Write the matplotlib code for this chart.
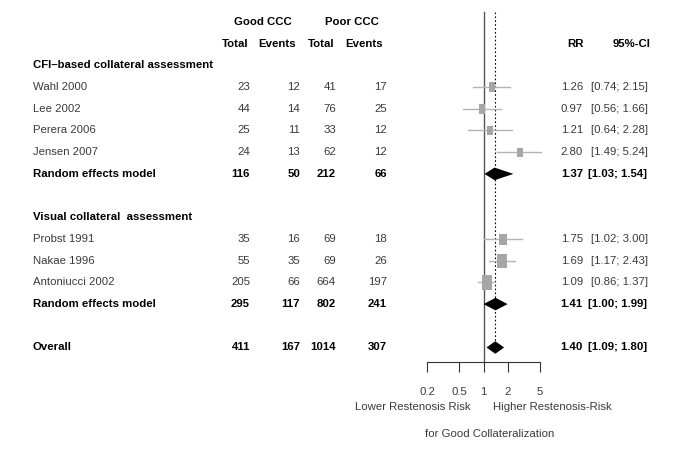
import matplotlib
matplotlib.use("Agg")
from matplotlib import pyplot as plt
import numpy as np

plt.rcParams['font.family'] = ['Liberation Sans', 'DejaVu Sans']

# dados dos estudos
studies = ["Wahl 2000", "Lee 2002", "Perera 2006", "Jensen 2007",
           "Probst 1991", "Nakae 1996", "Antoniucci 2002"]
good_total = [23, 44, 25, 24, 35, 55, 205]
good_events = [12, 14, 11, 13, 16, 35, 66]
poor_total = [41, 76, 33, 62, 69, 69, 664]
poor_events = [17, 25, 12, 12, 18, 26, 197]
rr = [1.26, 0.97, 1.21, 2.80, 1.75, 1.69, 1.09]
rr_lo = [0.74, 0.56, 0.64, 1.49, 1.02, 1.17, 0.86]
rr_hi = [2.15, 1.66, 2.28, 5.24, 3.00, 2.43, 1.37]
box_size = [10, 10, 9, 9, 11, 14, 15]  # altura do quadrado (px)

# modelos combinados
sum_labels = ["Random effects model", "Random effects model", "Overall"]
sum_good_total = [116, 295, 411]
sum_good_events = [50, 117, 167]
sum_poor_total = [212, 802, 1014]
sum_poor_events = [66, 241, 307]
sum_rr = [1.37, 1.41, 1.40]
sum_lo = [1.03, 1.00, 1.09]
sum_hi = [1.54, 1.99, 1.80]
diamond_hi = [2.35, 1.99, 1.80]  # largura desenhada no original

groups = ["CFI\u2013based collateral assessment", "Visual collateral  assessment"]
ticks = [0.2, 0.5, 1, 2, 5]

# linhas da tabela
study_rows = [3, 4, 5, 6, 10, 11, 12]
sum_rows = [7, 13, 15]
group_rows = [2, 9]

W, H = 685, 449
row_px, top_px = 21.7, 22
fig = plt.figure(figsize=(W / 100, H / 100), dpi=100)

ylim = ((H - top_px) / row_px, -top_px / row_px)

# eixo do texto (x em pixels)
axt = fig.add_axes([0, 0, 1, 1])
axt.set_xlim(0, W)
axt.set_ylim(*ylim)
axt.axis("off")

fs = 8.2
gray = "#3a3a3a"
cols = [250, 300, 336, 387]

axt.text(263, 0, "Good CCC", ha="center", va="center", fontsize=fs, fontweight="bold")
axt.text(352, 0, "Poor CCC", ha="center", va="center", fontsize=fs, fontweight="bold")
for x, lab in zip([249, 296, 335, 383], ["Total", "Events", "Total", "Events"]):
    axt.text(x, 1, lab, ha="right", va="center", fontsize=fs, fontweight="bold")
axt.text(584, 1, "RR", ha="right", va="center", fontsize=fs, fontweight="bold")
axt.text(651, 1, "95%-CI", ha="right", va="center", fontsize=fs, fontweight="bold")

for r, g in zip(group_rows, groups):
    axt.text(33, r, g, ha="left", va="center", fontsize=fs, fontweight="bold")

for i, r in enumerate(study_rows):
    axt.text(33, r, studies[i], ha="left", va="center", fontsize=fs, color=gray)
    vals = [good_total[i], good_events[i], poor_total[i], poor_events[i]]
    for x, v in zip(cols, vals):
        axt.text(x, r, str(v), ha="right", va="center", fontsize=fs, color=gray)
    axt.text(583, r, "%.2f" % rr[i], ha="right", va="center", fontsize=fs, color=gray)
    axt.text(648, r, "[%.2f; %.2f]" % (rr_lo[i], rr_hi[i]), ha="right", va="center",
             fontsize=fs, color=gray)

for i, r in enumerate(sum_rows):
    axt.text(33, r, sum_labels[i], ha="left", va="center", fontsize=fs, fontweight="bold")
    vals = [sum_good_total[i], sum_good_events[i], sum_poor_total[i], sum_poor_events[i]]
    for x, v in zip(cols, vals):
        axt.text(x, r, str(v), ha="right", va="center", fontsize=fs, fontweight="bold")
    axt.text(583, r, "%.2f" % sum_rr[i], ha="right", va="center", fontsize=fs, fontweight="bold")
    axt.text(647, r, "[%.2f; %.2f]" % (sum_lo[i], sum_hi[i]), ha="right", va="center",
             fontsize=fs, fontweight="bold")

# eixo do forest plot (escala log)
x0, x1, xone, scale = 400, 580, 483.5, 35.0
ax = fig.add_axes([x0 / W, 0, (x1 - x0) / W, 1])
ax.patch.set_alpha(0)
ax.set_xscale("log")
ax.set_xlim(np.exp((x0 - xone) / scale), np.exp((x1 - xone) / scale))
ax.set_ylim(*ylim)

axis_row = (362 - top_px) / row_px
top_row = (12 - top_px) / row_px

ax.plot([1, 1], [top_row, axis_row], color="#555555", lw=1, zorder=1)
ax.plot([sum_rr[2], sum_rr[2]], [top_row, 14.75], color="black", lw=0.8,
        ls=(0, (1.5, 2)), zorder=1)

# quadrados e intervalos
box = [(-0.7, -1), (0.7, -1), (0.7, 1), (-0.7, 1), (-0.7, -1)]
for i, r in enumerate(study_rows):
    ax.plot([rr_lo[i], rr_hi[i]], [r, r], color="#b4b4b4", lw=1, zorder=2)
    ax.plot(rr[i], r, marker=box, color="#a6a6a6", markersize=box_size[i] * 0.72,
            markeredgewidth=0, zorder=3)

# losangos
dh = 0.29
for i, r in enumerate(sum_rows):
    ax.fill([sum_lo[i], sum_rr[i], diamond_hi[i], sum_rr[i]],
            [r, r - dh, r, r + dh], color="black", lw=0, zorder=4)

# eixo x
for s in ["top", "right", "left"]:
    ax.spines[s].set_visible(False)
ax.spines["bottom"].set_position(("data", axis_row))
ax.spines["bottom"].set_bounds(ticks[0], ticks[-1])
ax.spines["bottom"].set_color("#333333")
ax.set_yticks([])
ax.set_xticks(ticks)
ax.set_xticks([], minor=True)
ax.set_xticklabels(["0.2", "0.5", "1", "2", "5"])
ax.tick_params(axis="x", direction="out", length=7, width=0.8, color="#333333",
               pad=11, labelsize=fs, labelcolor=gray)

axt.text(471, (407 - top_px) / row_px, "Lower Restenosis Risk", ha="right",
         va="center", fontsize=fs, color=gray)
axt.text(493, (407 - top_px) / row_px, "Higher Restenosis-Risk", ha="left",
         va="center", fontsize=fs, color=gray)
axt.text(490, (434 - top_px) / row_px, "for Good Collateralization", ha="center",
         va="center", fontsize=fs, color=gray)

fig.savefig("out.png", dpi=100)
